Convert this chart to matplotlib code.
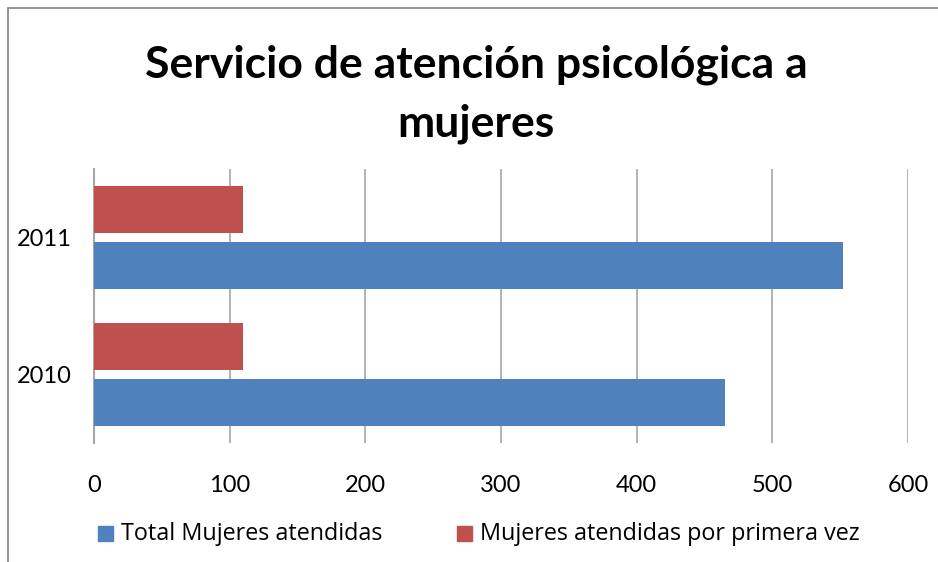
import matplotlib.pyplot as plt
from matplotlib.patches import Rectangle
import numpy as np

# datos
anios = ['2010', '2011']
total_atendidas = [465, 552]
primera_vez = [110, 110]
series_nombres = ['Total Mujeres atendidas', 'Mujeres atendidas por primera vez']
ticks_x = [0, 100, 200, 300, 400, 500, 600]

azul = '#4F81BD'
rojo = '#C0504D'
gris = '#A6A6A6'

plt.rcParams['font.family'] = ['Lato', 'DejaVu Sans']

W, H = 938, 562
fig = plt.figure(figsize=(W / 100, H / 100), dpi=100)

# borde del area del grafico (se corta por la derecha y abajo)
fig.patches.append(Rectangle((8 / W, -0.1), 1.1, 1 - 8 / H + 0.1,
                             transform=fig.transFigure, fill=False,
                             edgecolor='#8C8C8C', linewidth=1.3))

ax = fig.add_axes([94 / W, 1 - 443 / H, (908 - 94) / W, (443 - 169) / H])

y = np.arange(len(anios))
alto = 0.345
ax.barh(y - 0.205, total_atendidas, height=alto, color=azul, zorder=3)
ax.barh(y + 0.205, primera_vez, height=alto, color=rojo, zorder=3)

ax.set_xlim(0, 600)
ax.set_ylim(-0.5, 1.5)
ax.set_xticks(ticks_x)
ax.set_yticks(y)
ax.set_yticklabels(anios)

for s in ['top', 'right', 'bottom']:
    ax.spines[s].set_visible(False)
ax.spines['left'].set_color(gris)
ax.spines['left'].set_linewidth(1.5)

ax.grid(axis='x', color=gris, linewidth=1.2, zorder=0)
ax.tick_params(axis='x', length=0, pad=23, labelsize=17)
ax.tick_params(axis='y', length=0, pad=16, labelsize=17)

fig.text(476 / W, 1 - 77 / H, 'Servicio de atención psicológica a',
         ha='center', va='baseline', fontsize=32, fontweight='bold')
fig.text(476 / W, 1 - 136 / H, 'mujeres',
         ha='center', va='baseline', fontsize=32, fontweight='bold')

# leyenda colocada a mano
colores = [azul, rojo]
x_cuadro = [98, 457]
for nombre, col, xc in zip(series_nombres, colores, x_cuadro):
    fig.patches.append(Rectangle((xc / W, 1 - 541 / H), 15 / W, 15 / H,
                                 transform=fig.transFigure, color=col))
    fig.text((xc + 23) / W, 1 - 534 / H, nombre, ha='left', va='center',
             fontsize=16.8, family=['Open Sans', 'DejaVu Sans'])

fig.savefig('out.png', dpi=100)
